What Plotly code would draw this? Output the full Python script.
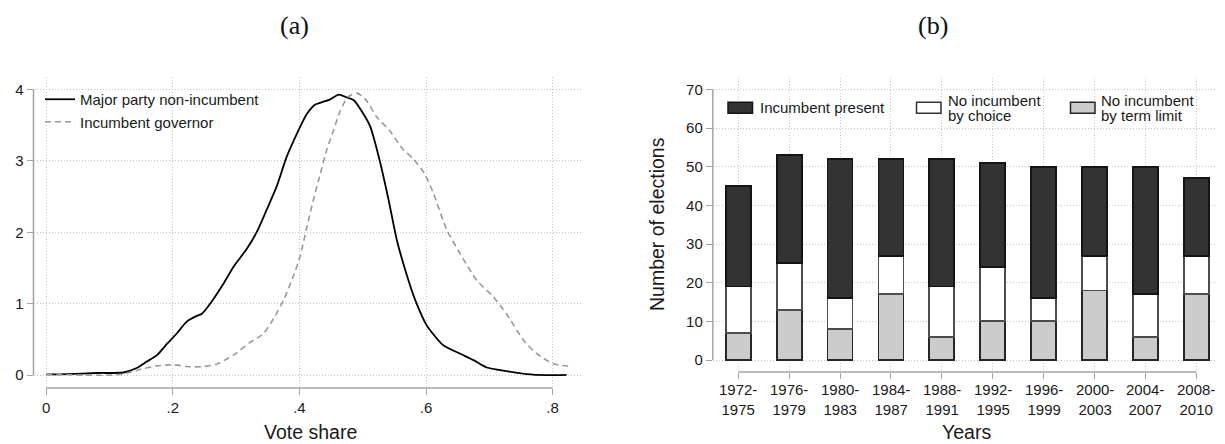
import plotly.graph_objects as go

# page is 1225x444; the html body adds an 8px margin, so the figure is drawn 8px smaller
PAGE_W, PAGE_H = 1225, 444
OFF = 8
W, H = PAGE_W - OFF, PAGE_H - OFF

# ---------------- Panel (a): kernel densities of vote share ----------------
vote_share_nonincumbent = [0.000, 0.033, 0.080, 0.122, 0.143, 0.159, 0.175, 0.191, 0.206, 0.222,
                           0.238, 0.246, 0.259, 0.280, 0.296, 0.317, 0.333, 0.348, 0.364, 0.380,
                           0.396, 0.412, 0.425, 0.438, 0.448, 0.462, 0.475, 0.486, 0.501, 0.512,
                           0.527, 0.541, 0.554, 0.569, 0.583, 0.601, 0.627, 0.654, 0.675, 0.696,
                           0.727, 0.759, 0.790, 0.822]
density_nonincumbent = [0.010, 0.014, 0.030, 0.037, 0.100, 0.190, 0.280, 0.440, 0.580, 0.750,
                        0.830, 0.860, 1.000, 1.280, 1.520, 1.770, 2.010, 2.310, 2.640, 3.060,
                        3.380, 3.660, 3.790, 3.830, 3.860, 3.930, 3.890, 3.850, 3.660, 3.480,
                        3.000, 2.450, 1.890, 1.420, 1.050, 0.700, 0.420, 0.300, 0.210, 0.107,
                        0.056, 0.014, 0.000, 0.005]

vote_share_incumbent = [0.000, 0.059, 0.100, 0.122, 0.148, 0.175, 0.201, 0.227, 0.248, 0.269,
                        0.296, 0.322, 0.343, 0.359, 0.375, 0.391, 0.401, 0.412, 0.422, 0.433,
                        0.443, 0.454, 0.464, 0.477, 0.491, 0.504, 0.522, 0.543, 0.564, 0.580,
                        0.598, 0.612, 0.633, 0.654, 0.680, 0.706, 0.727, 0.754, 0.775, 0.801,
                        0.830]
density_incumbent = [0.014, 0.000, 0.000, 0.014, 0.080, 0.130, 0.145, 0.117, 0.120, 0.154,
                     0.280, 0.460, 0.580, 0.790, 1.050, 1.400, 1.660, 2.080, 2.450, 2.820,
                     3.150, 3.430, 3.690, 3.900, 3.950, 3.870, 3.620, 3.420, 3.160, 3.030,
                     2.820, 2.540, 2.030, 1.700, 1.330, 1.100, 0.860, 0.490, 0.300, 0.160,
                     0.120]

a_xticks = [0, 0.2, 0.4, 0.6, 0.8]
a_xticklabels = ["0", ".2", ".4", ".6", ".8"]
a_yticks = [0, 1, 2, 3, 4]

# ---------------- Panel (b): elections by period ----------------
periods = ["1972-1975", "1976-1979", "1980-1983", "1984-1987", "1988-1991",
           "1992-1995", "1996-1999", "2000-2003", "2004-2007", "2008-2010"]
term_limit = [7, 13, 8, 17, 6, 10, 10, 18, 6, 17]
by_choice = [12, 12, 8, 10, 13, 14, 6, 9, 11, 10]
incumbent_present = [26, 28, 36, 25, 33, 27, 34, 23, 33, 20]
b_yticks = [0, 10, 20, 30, 40, 50, 60, 70]

# ---------------- styling ----------------
FONT = "Liberation Sans"
TXT = "#1a1a1a"
AXC = "#a3a3a3"
GRIDC = "#c4c4c4"
GRIDDASH = "1px,2px"
DARK = "#333333"
LIGHT = "#cccccc"
TICKFONT = dict(family=FONT, size=15, color=TXT)
TITLEFONT = dict(family=FONT, size=19.5, color=TXT)


def px_x(p):
    return (p - OFF) / W


def px_y(p):
    return 1 - (p - OFF) / H


a_xr = [-0.02, 0.848]
a_yr = [-0.18, 4.176]
b_xr = [-0.5, 9.465]
b_yr = [-3.1, 72.93]

fig = go.Figure()

fig.add_trace(go.Scatter(x=vote_share_nonincumbent, y=density_nonincumbent, mode="lines",
                         name="Major party non-incumbent",
                         line=dict(color="#000000", width=1.8, shape="spline", smoothing=0.6),
                         xaxis="x", yaxis="y", legend="legend"))
fig.add_trace(go.Scatter(x=vote_share_incumbent, y=density_incumbent, mode="lines",
                         name="Incumbent governor",
                         line=dict(color="#9a9a9a", width=1.6, dash="6px,4px", shape="spline",
                                   smoothing=0.6),
                         xaxis="x", yaxis="y", legend="legend"))

cats = list(range(len(periods)))
bar_w = 0.49
fig.add_trace(go.Bar(x=cats, y=term_limit, width=bar_w, name="No incumbent by term limit",
                     marker=dict(color=LIGHT, line=dict(color="#262626", width=1.8)),
                     xaxis="x2", yaxis="y2", showlegend=False))
fig.add_trace(go.Bar(x=cats, y=by_choice, width=bar_w, name="No incumbent by choice",
                     marker=dict(color="#ffffff", line=dict(color="#4d4d4d", width=1.8)),
                     xaxis="x2", yaxis="y2", showlegend=False))
fig.add_trace(go.Bar(x=cats, y=incumbent_present, width=bar_w, name="Incumbent present",
                     marker=dict(color=DARK, line=dict(color="#141414", width=1.8)),
                     xaxis="x2", yaxis="y2", showlegend=False))

common_axis = dict(showline=False, zeroline=False, ticks="outside", ticklen=6, tickwidth=1.3,
                   tickcolor=AXC, showgrid=True, gridcolor=GRIDC, griddash=GRIDDASH, gridwidth=1,
                   tickfont=TICKFONT, automargin=False)

fig.update_layout(
    width=W, height=H, margin=dict(l=0, r=0, t=0, b=0, autoexpand=False),
    paper_bgcolor="white", plot_bgcolor="white",
    barmode="stack", font=dict(family=FONT, color=TXT),
    xaxis=dict(domain=[px_x(33.5), px_x(583)], range=a_xr, tickvals=a_xticks,
               ticktext=a_xticklabels, anchor="y", **common_axis),
    yaxis=dict(domain=[px_y(388), px_y(77)], range=a_yr, tickvals=a_yticks, anchor="x",
               **common_axis),
    xaxis2=dict(domain=[px_x(712.8), px_x(1220)], range=b_xr, tickvals=cats,
                showticklabels=False, anchor="y2", **common_axis),
    yaxis2=dict(domain=[px_y(372), px_y(78)], range=b_yr, tickvals=b_yticks, anchor="x2",
                **common_axis),
    legend=dict(x=px_x(40), y=px_y(83), xanchor="left", yanchor="top",
                bgcolor="rgba(0,0,0,0)", borderwidth=0, traceorder="normal",
                font=dict(family=FONT, size=15, color=TXT), tracegroupgap=0),
)


def frac(v, r):
    return (v - r[0]) / (r[1] - r[0])


shapes = []
line_style = dict(color=AXC, width=1.5)
# panel (a) axis lines spanning the tick range
shapes.append(dict(type="line", xref="x domain", yref="y domain", x0=0, x1=0,
                   y0=frac(a_yticks[0], a_yr), y1=frac(a_yticks[-1], a_yr), line=line_style))
shapes.append(dict(type="line", xref="x domain", yref="y domain", y0=0, y1=0,
                   x0=frac(a_xticks[0], a_xr), x1=frac(a_xticks[-1], a_xr), line=line_style))
# panel (b)
shapes.append(dict(type="line", xref="x2 domain", yref="y2 domain", x0=0, x1=0,
                   y0=frac(b_yticks[0], b_yr), y1=frac(b_yticks[-1], b_yr), line=line_style))
shapes.append(dict(type="line", xref="x2 domain", yref="y2 domain", y0=0, y1=0,
                   x0=frac(cats[0], b_xr), x1=frac(cats[-1], b_xr), line=line_style))

annotations = []

# category tick labels for panel (b), two lines each
for c, p in zip(cats, periods):
    first, second = p.split("-")
    annotations.append(dict(text=first + "-<br>" + second, xref="x2", yref="paper", x=c,
                            y=px_y(399), xanchor="center", yanchor="middle", showarrow=False,
                            font=TICKFONT, borderpad=0))

# axis titles
annotations.append(dict(text="Vote share", xref="paper", yref="paper", x=px_x(310),
                        y=px_y(431.5), xanchor="center", yanchor="middle", showarrow=False,
                        font=TITLEFONT))
annotations.append(dict(text="Years", xref="paper", yref="paper", x=px_x(966.5),
                        y=px_y(432), xanchor="center", yanchor="middle", showarrow=False,
                        font=TITLEFONT))
annotations.append(dict(text="Number of elections", xref="paper", yref="paper", x=px_x(656.5),
                        y=px_y(224.5), xanchor="center", yanchor="middle", showarrow=False,
                        textangle=-90, font=TITLEFONT))

# manual legend for panel (b)
legend_items = [
    (DARK, "#141414", ["Incumbent present"], 728, 759),
    ("#ffffff", "#333333", ["No incumbent", "by choice"], 916.5, 947),
    (LIGHT, "#262626", ["No incumbent", "by term limit"], 1070.5, 1099.7),
]
for fill, edge, lines, sx, tx in legend_items:
    shapes.append(dict(type="rect", xref="paper", yref="paper",
                       x0=px_x(sx), x1=px_x(sx + 24.5), y0=px_y(113.3), y1=px_y(102.3),
                       fillcolor=fill, line=dict(color=edge, width=1.5)))
    ys = [107.8] if len(lines) == 1 else [100.3, 115.3]
    for t, yy in zip(lines, ys):
        annotations.append(dict(text=t, xref="paper", yref="paper", x=px_x(tx), y=px_y(yy),
                                xanchor="left", yanchor="middle", showarrow=False,
                                font=dict(family=FONT, size=15, color=TXT), borderpad=0))

# panel titles
for t, cx in [("(a)", 294), ("(b)", 933)]:
    annotations.append(dict(text=t, xref="paper", yref="paper", x=px_x(cx), y=px_y(26),
                            xanchor="center", yanchor="middle", showarrow=False,
                            font=dict(family="Liberation Serif", size=26, color="#111111")))

fig.update_layout(shapes=shapes, annotations=annotations)

fig.write_html("out.html")
